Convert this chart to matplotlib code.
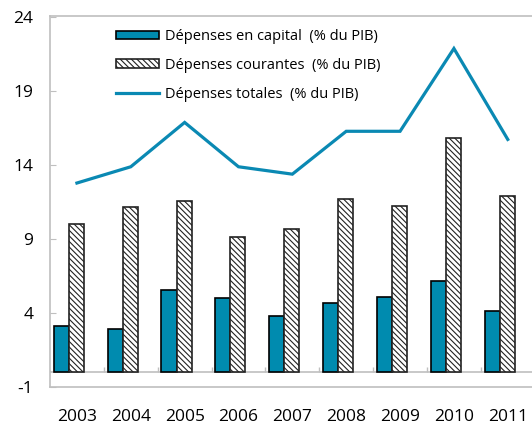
import numpy as np
import matplotlib
matplotlib.use("Agg")
import matplotlib.pyplot as plt

plt.rcParams["font.family"] = ["Open Sans", "DejaVu Sans"]
plt.rcParams["hatch.linewidth"] = 0.8
plt.rcParams["axes.unicode_minus"] = False

# Dépenses publiques, % du PIB
years = ["2003", "2004", "2005", "2006", "2007", "2008", "2009", "2010", "2011"]
capital = [3.1, 2.9, 5.55, 5.0, 3.8, 4.65, 5.1, 6.15, 4.15]
courantes = [10.0, 11.15, 11.6, 9.15, 9.7, 11.7, 11.25, 15.85, 11.9]
totales = [12.8, 13.9, 16.9, 13.9, 13.4, 16.3, 16.3, 21.9, 15.75]
yticks = [-1, 4, 9, 14, 19, 24]

BLUE = "#008BAF"
LINE = "#0A89B3"
GREY = "#BFBFBF"

fig = plt.figure(figsize=(5.32, 4.26), dpi=100)
ax = fig.add_axes([50 / 532, 1 - 387 / 426, 1 - 50 / 532, (387 - 16) / 426])

x = np.arange(len(years))
w = 0.28
b1 = ax.bar(x - 0.29, capital, w, color=BLUE, edgecolor="black", linewidth=1.2,
            label="Dépenses en capital  (% du PIB)", zorder=3)
b2 = ax.bar(x - 0.01, courantes, w, color="white", edgecolor="#222222", linewidth=1.2,
            hatch="\\\\\\\\\\\\", label="Dépenses courantes  (% du PIB)", zorder=3)
ln, = ax.plot(x, totales, color=LINE, linewidth=2.3, label="Dépenses totales  (% du PIB)",
              zorder=4, solid_joinstyle="miter")

ax.set_xlim(-0.5, 8.45)
ax.set_ylim(-1, 24.1)

# zero line with small upward ticks between the years
ax.axhline(0, color=GREY, linewidth=1.2, zorder=2)
ax.vlines(x[:-1] + 0.5, 0, 0.35, color=GREY, linewidth=1.0, zorder=2)

ax.set_yticks(yticks)
ax.set_xticks(x)
ax.set_xticklabels(years)
ax.tick_params(axis="y", direction="in", length=4, color=GREY, pad=12, labelsize=12.5)
ax.tick_params(axis="x", length=0, pad=16, labelsize=12.5)

for side in ("left", "top", "bottom"):
    ax.spines[side].set_color(GREY)
    ax.spines[side].set_linewidth(1.2)
ax.spines["right"].set_visible(False)

ax.legend(handles=[b1, b2, ln], loc="upper left", bbox_to_anchor=(0.118, 0.99),
          frameon=False, fontsize=10.5, handlelength=2.9, handleheight=0.55,
          handletextpad=0.45, labelspacing=0.95, borderaxespad=0.25)

fig.savefig("out.png", dpi=100)
